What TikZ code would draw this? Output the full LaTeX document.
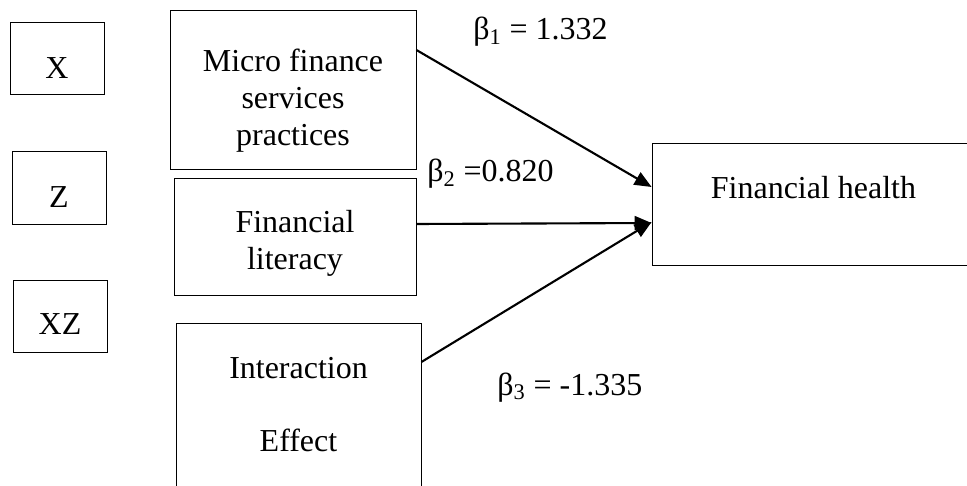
\documentclass[tikz,border=0pt]{standalone}
\usepackage{fontspec}
\setmainfont{Liberation Serif}
\usetikzlibrary{arrows.meta}
\tikzset{
  box/.style={draw, line width=0.5pt, inner sep=0pt},
  coef/.style={anchor=base west, inner sep=0pt}
}
\begin{document}
\begin{tikzpicture}[x=0.02cm, y=-0.02cm, font=\fontsize{18.2}{21}\selectfont]
      \path[use as bounding box, clip] (0,0) rectangle (967,486);
      \node[box, minimum width=1.88cm, minimum height=1.44cm,
        label={[yshift=-0.2cm]center:X}] (x) at (57,58) {};
      \node[box, minimum width=1.88cm, minimum height=1.46cm,
        label={[yshift=-0.19cm]center:Z}] (z) at (59,187.5) {};
      \node[box, minimum width=1.88cm, minimum height=1.44cm,
        label={[yshift=-0.16cm]center:XZ}] (xz) at (60,316) {};
      \node[box, minimum width=4.92cm, minimum height=3.18cm,
        label={[align=center, yshift=-0.23cm]center:{Micro finance\\services\\practices}}] (micro) at (293,89.5) {};
      \node[box, minimum width=4.84cm, minimum height=2.34cm,
        label={[align=center, yshift=-0.13cm]center:{Financial\\literacy}}] (literacy) at (295,236.5) {};
      \node[box, minimum width=4.9cm, minimum height=3.34cm,
        label={[align=center, yshift=0.03cm]center:{Interaction\\[0.72cm]Effect}}] (interaction) at (298.5,406.5) {};
      \node[box, minimum width=6.46cm, minimum height=2.44cm,
        label={[yshift=0.32cm]center:Financial health}] (health) at (813.5,204) {};
      \node[coef] (b1) at (473,40) {β\textsubscript{1} = 1.332};
      \node[coef] (b2) at (427,182) {β\textsubscript{2} =0.820};
      \node[coef] (b3) at (497,395) {β\textsubscript{3} = -1.335};
      \begin{scope}[-{Triangle[length=0.34cm,width=0.28cm]}, line width=1.2pt]
        \draw (micro.east |- 0,50) to (health.west |- 0,187);
        \draw (literacy.east |- 0,224) to (health.west |- 0,223);
        \draw (interaction.east |- 0,362) to (health.west |- 0,222);
      \end{scope}
    \end{tikzpicture}
\end{document}
